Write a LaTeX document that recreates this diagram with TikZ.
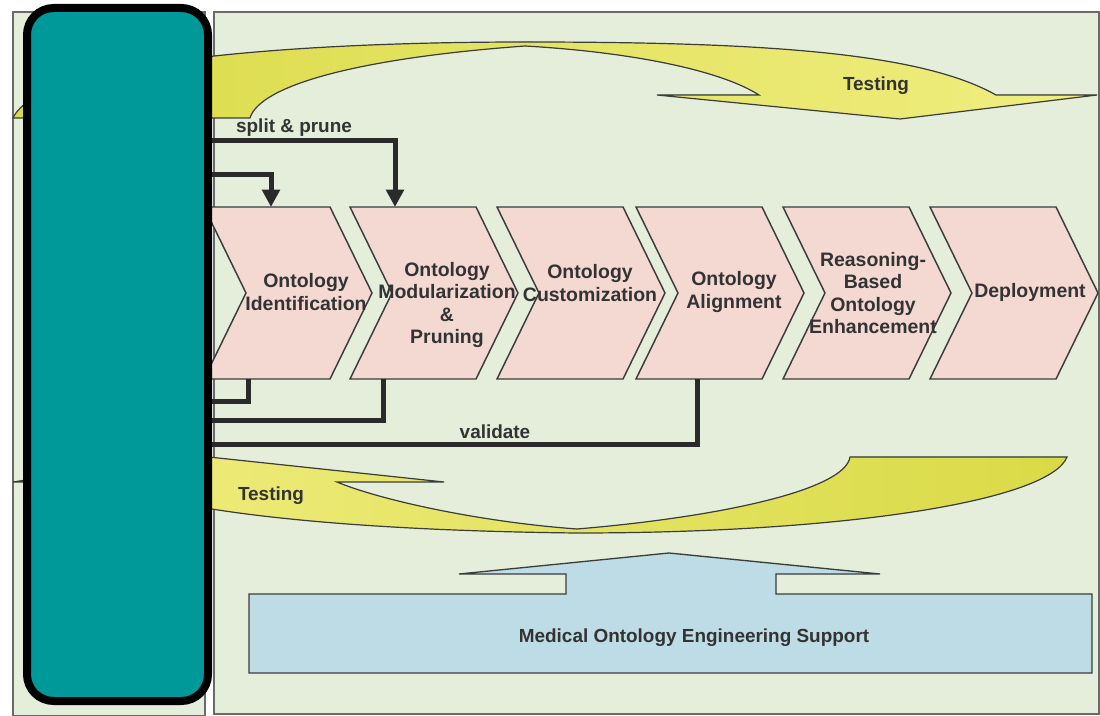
\documentclass[tikz,border=0pt]{standalone}
\usepackage{fontspec}
\setmainfont{Liberation Sans}
\usetikzlibrary{arrows.meta}

\definecolor{panelbg}{HTML}{E4EEDA}
\definecolor{panelline}{HTML}{6A6A6A}
\definecolor{stepfill}{HTML}{F3D9D1}
\definecolor{edgeclr}{HTML}{3C3C3C}
\definecolor{flowclr}{HTML}{2A2A2A}
\definecolor{txtclr}{HTML}{333333}
\definecolor{yellowdark}{HTML}{DADA48}
\definecolor{yellowlight}{HTML}{F0EE80}
\definecolor{supportfill}{HTML}{BEDCE6}
\definecolor{tealfill}{HTML}{009999}

% one chevron: #1 name, #2 x of the left end of its top edge
\newcommand\chevstep[2]{%
  \node[chevframe] (#1) at ({#2+84},293) {};
  \filldraw[chevline] ({#2},207) -- ({#2+126},207) -- ({#2+168},293)
    -- ({#2+126},379) -- ({#2},379) -- ({#2+42},293) -- cycle;
}

\begin{document}
\begin{tikzpicture}[x=0.75pt,y=-0.75pt,
  panel/.style={fill=panelbg,draw=panelline,line width=0.9pt},
  testarrow/.style={draw=edgeclr,line width=0.9pt},
  chevframe/.style={inner sep=0pt,outer sep=0pt,minimum width=126pt,minimum height=129pt},
  chevline/.style={fill=stepfill,draw=edgeclr,line width=1.1pt,line join=miter},
  steptext/.style={font=\fontsize{14.6}{16.9}\selectfont\bfseries,text=txtclr,align=center,inner sep=0pt},
  flowlabel/.style={font=\fontsize{14.2}{16}\selectfont\bfseries,text=txtclr,inner sep=0pt},
  flow/.style={draw=flowclr,line width=3.75pt,line join=miter},
  flowhead/.style={flow,-{Triangle[width=13pt,length=13pt]}},
  tealbox/.style={draw=black,fill=tealfill,line width=6pt,rounded corners=20pt,
    inner sep=0pt,minimum width=135.75pt,minimum height=519.75pt},
  supportbox/.style={fill=supportfill,draw=edgeclr,line width=1pt}
]
\useasboundingbox (0,0) rectangle (1100,716);
\fill[white] (0,0) rectangle (1100,716);

% side panel and main panel
\filldraw[panel] (13,12) rectangle (205,716);
\filldraw[panel] (214,12) rectangle (1099,714);

% upper testing loop
\filldraw[testarrow,left color=yellowdark,right color=yellowlight]
  (13,118) -- (250,118)
  .. controls (260,85) and (360,58) .. (525,46)
  .. controls (630,52) and (720,70) .. (759,95)
  -- (657,95) -- (900,119) -- (1097,95) -- (996,95)
  .. controls (920,52) and (760,42) .. (525,42)
  .. controls (300,42) and (40,60) .. (13,118) -- cycle;
\node[flowlabel] (testtop) at (876,86) {Testing};

% lower testing loop
\filldraw[testarrow,left color=yellowlight,right color=yellowdark]
  (1067,457) -- (850,457)
  .. controls (845,490) and (720,517) .. (577,529)
  .. controls (480,522) and (380,500) .. (337,482)
  -- (444,482) -- (190,455) -- (13,482) -- (110,482)
  .. controls (150,505) and (300,530) .. (577,533)
  .. controls (850,533) and (1050,500) .. (1067,457) -- cycle;
\node[flowlabel] (testbot) at (271,496) {Testing};

% process chevrons
\chevstep{c1}{204}
\chevstep{c2}{350}
\chevstep{c3}{497}
\chevstep{c4}{636}
\chevstep{c5}{783}
\chevstep{c6}{930}

\node[steptext] (t1) at (306,292) {Ontology\\Identification};
\node[steptext] (t2) at (447,305) {Ontology\\Modularization\\\&\\Pruning};
\node[steptext] (t3) at (590,283) {Ontology\\Customization};
\node[steptext] (t4) at (734,292) {Ontology\\Alignment};
\node[steptext] (t5) at (873,293) {Reasoning-\\Based\\Ontology\\Enhancement};
\node[steptext] (t6) at (1030,292) {Deployment};

% engineering support
\filldraw[supportbox] (249,594) -- (566,594) -- (566,574) -- (459,574) -- (669,553)
  -- (880,574) -- (776,574) -- (776,594) -- (1092,594) -- (1092,673) -- (249,673) -- cycle;
\node[flowlabel] (support) at (694,638) {Medical Ontology Engineering Support};

% side block
\node[tealbox] (teal) at (117.5,354.5) {};

% feedback and feed-forward lines
\coordinate (sp) at (395,141);
\coordinate (q1) at (271,175);
\coordinate (b1) at (248,402);
\coordinate (b2) at (383,421);
\coordinate (b4) at (697,445);

\draw[flowhead] (teal.east |- sp) -| (c2.north west -| sp);
\draw[flowhead] (teal.east |- q1) -| (c1.north west -| q1);
\draw[flow] (c1.south west -| b1) |- (teal.east |- b1);
\draw[flow] (c2.south west -| b2) |- (teal.east |- b2);
\draw[flow] (c4.south west -| b4) |- (teal.east |- b4);

\node[flowlabel] (split) at (294,128) {split \& prune};
\node[flowlabel] (valid) at (495,432) {validate};
\end{tikzpicture}
\end{document}
